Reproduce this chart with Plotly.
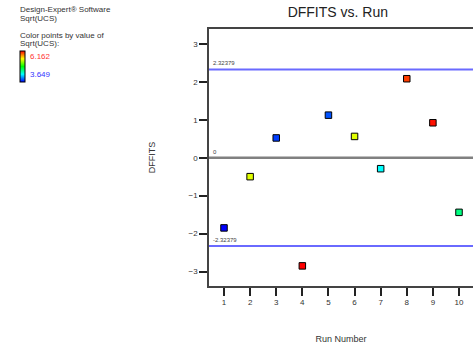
import plotly.graph_objects as go

runs = [1, 2, 3, 4, 5, 6, 7, 8, 9, 10]
dffits = [-1.85, -0.50, 0.52, -2.85, 1.12, 0.56, -0.29, 2.08, 0.92, -1.44]
sqrt_ucs = [3.649, 5.46, 3.80, 6.162, 3.85, 5.46, 4.277, 6.01, 6.12, 4.59]
limit_hi = 2.32379
limit_lo = -2.32379
ucs_min, ucs_max = 3.649, 6.162

cscale = [[0, "#0000ff"], [0.25, "#00ffff"], [0.5, "#00ff00"], [0.75, "#ffff00"], [1, "#ff0000"]]


def px_x(p):
    return (p - 209) / 264


def px_y(p):
    return (288 - p) / 259


fig = go.Figure()
fig.add_trace(go.Scatter(
    x=runs, y=dffits, mode="markers",
    marker=dict(symbol="square", size=6.5, color=sqrt_ucs, colorscale=cscale,
                cmin=ucs_min, cmax=ucs_max,
                line=dict(color="black", width=1),
                showscale=True,
                colorbar=dict(thickness=5, thicknessmode="pixels", len=31, lenmode="pixels",
                              x=px_x(20), xanchor="left", xref="paper",
                              y=px_y(51), yanchor="top",
                              outlinewidth=1, outlinecolor="black",
                              showticklabels=False, ticks="", xpad=0, ypad=0)),
    showlegend=False, hoverinfo="skip"))

for val, col, w in [(limit_hi, "#6a6aff", 2), (0, "#808080", 2.5), (limit_lo, "#6a6aff", 2)]:
    fig.add_shape(type="line", xref="paper", x0=0, x1=1, yref="y", y0=val, y1=val,
                  line=dict(color=col, width=w), layer="below")

for val, txt in [(limit_hi, "2.32379"), (0, "0"), (limit_lo, "-2.32379")]:
    fig.add_annotation(x=0, xref="paper", y=val, yref="y", text=txt, showarrow=False,
                       xanchor="left", yanchor="bottom", xshift=2, yshift=1,
                       font=dict(size=6, color="#444"))

legend_lines = [("Design-Expert® Software", 9), ("Sqrt(UCS)", 18),
                ("Color points by value of", 36), ("Sqrt(UCS):", 44)]
for txt, yy in legend_lines:
    fig.add_annotation(x=px_x(18), y=px_y(yy), xref="paper", yref="paper", text=txt,
                       showarrow=False, xanchor="left", yanchor="middle",
                       font=dict(size=8, color="#333"))
fig.add_annotation(x=px_x(28), y=px_y(57), xref="paper", yref="paper", text=f"{ucs_max:.3f}",
                   showarrow=False, xanchor="left", yanchor="middle",
                   font=dict(size=8, color="#ff3333"))
fig.add_annotation(x=px_x(28), y=px_y(75), xref="paper", yref="paper", text=f"{ucs_min:.3f}",
                   showarrow=False, xanchor="left", yanchor="middle",
                   font=dict(size=8, color="#3333ff"))

fig.update_layout(
    width=473, height=344,
    margin=dict(l=209, r=0, t=29, b=56),
    paper_bgcolor="white", plot_bgcolor="white",
    font=dict(family="Liberation Sans, Arial, sans-serif", color="#333"),
    title=dict(text="DFFITS vs. Run", x=0.488, xref="paper", y=1 - 12 / 344, yanchor="middle",
               font=dict(size=14, color="#222")),
    xaxis=dict(range=[0.4255, 10.536], tickvals=runs, ticks="outside", ticklen=8,
               tickcolor="#222", tickwidth=1.5, showgrid=False, zeroline=False,
               showline=True, linecolor="#444", linewidth=1.5, mirror=True,
               tickfont=dict(size=8, color="#333"),
               title=dict(text="Run Number", font=dict(size=9, color="#333"), standoff=30)),
    yaxis=dict(range=[-3.38, 3.39], tickvals=[-3, -2, -1, 0, 1, 2, 3], ticks="outside",
               ticklen=8, tickcolor="#222", tickwidth=1.5, showgrid=False, zeroline=False,
               showline=True, linecolor="#444", linewidth=1.5, mirror=False,
               tickfont=dict(size=8, color="#333"),
               title=dict(text="DFFITS", font=dict(size=9, color="#333"), standoff=31)),
)

fig.write_html("out.html")
